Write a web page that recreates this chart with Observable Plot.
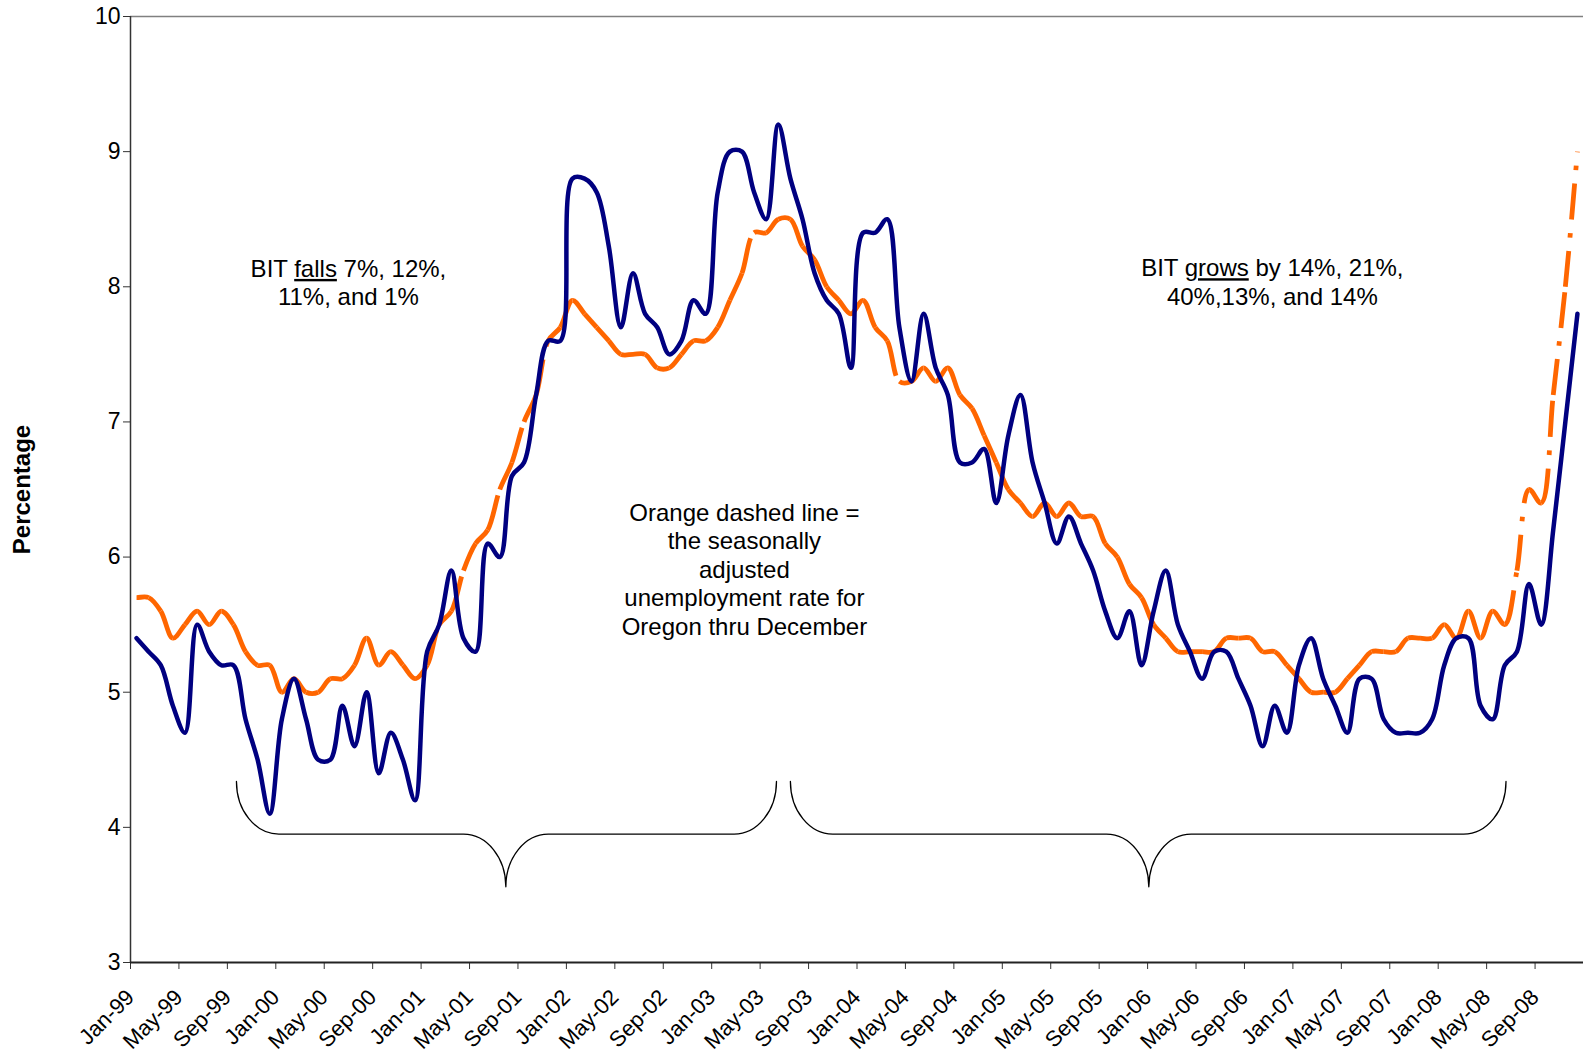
<!DOCTYPE html>
<html>
<head>
<meta charset="utf-8">
<script src="https://cdn.jsdelivr.net/npm/d3@7"></script>
<script src="https://cdn.jsdelivr.net/npm/@observablehq/plot@0.6"></script>
<style>
  html, body { margin: 0; padding: 0; background: #fff; }
  #chart svg { display: block; }
</style>
</head>
<body>
<div id="chart"></div>
<script>
// ---- Data (monthly, Jan-99 .. Dec-08) ----
const tickLabels = ["Jan-99","May-99","Sep-99","Jan-00","May-00","Sep-00","Jan-01","May-01","Sep-01",
  "Jan-02","May-02","Sep-02","Jan-03","May-03","Sep-03","Jan-04","May-04","Sep-04","Jan-05","May-05",
  "Sep-05","Jan-06","May-06","Sep-06","Jan-07","May-07","Sep-07","Jan-08","May-08","Sep-08"];

const actualRate = [
  5.4, 5.3, 5.2, 4.9, 4.7, 5.5, 5.3, 5.2, 5.2, 4.8, 4.5, 4.1,
  4.8, 5.1, 4.8, 4.5, 4.5, 4.9, 4.6, 5.0, 4.4, 4.7, 4.5, 4.2,
  5.3, 5.5, 5.9, 5.4, 5.3, 6.1, 6.0, 6.6, 6.7, 7.2, 7.6, 7.6,
  8.8, 8.8, 8.7, 8.3, 7.7, 8.1, 7.8, 7.7, 7.5, 7.6, 7.9, 7.8,
  8.7, 9.0, 9.0, 8.7, 8.5, 9.2, 8.8, 8.5, 8.1, 7.9, 7.8, 7.4,
  8.4, 8.4, 8.5, 7.7, 7.3, 7.8, 7.4, 7.2, 6.7, 6.7, 6.8, 6.4,
  6.9, 7.2, 6.7, 6.4, 6.1, 6.3, 6.1, 5.9, 5.6, 5.4, 5.6, 5.2,
  5.6, 5.9, 5.5, 5.3, 5.1, 5.3, 5.3, 5.1, 4.9, 4.6, 4.9, 4.7,
  5.2, 5.4, 5.1, 4.9, 4.7, 5.1, 5.1, 4.8, 4.7, 4.7, 4.7, 4.8,
  5.2, 5.4, 5.4, 4.9, 4.8, 5.2, 5.3, 5.8, 5.5, 6.2, 7.0, 7.8
];

const seasonallyAdjusted = [
  5.7, 5.7, 5.6, 5.4, 5.5, 5.6, 5.5, 5.6, 5.5, 5.3, 5.2, 5.2,
  5.0, 5.1, 5.0, 5.0, 5.1, 5.1, 5.2, 5.4, 5.2, 5.3, 5.2, 5.1,
  5.2, 5.5, 5.6, 5.9, 6.1, 6.2, 6.5, 6.7, 7.0, 7.2, 7.6, 7.7,
  7.9, 7.8, 7.7, 7.6, 7.5, 7.5, 7.5, 7.4, 7.4, 7.5, 7.6, 7.6,
  7.7, 7.9, 8.1, 8.4, 8.4, 8.5, 8.5, 8.3, 8.2, 8.0, 7.9, 7.8,
  7.9, 7.7, 7.6, 7.3, 7.3, 7.4, 7.3, 7.4, 7.2, 7.1, 6.9, 6.7,
  6.5, 6.4, 6.3, 6.4, 6.3, 6.4, 6.3, 6.3, 6.1, 6.0, 5.8, 5.7,
  5.5, 5.4, 5.3, 5.3, 5.3, 5.3, 5.4, 5.4, 5.4, 5.3, 5.3, 5.2,
  5.1, 5.0, 5.0, 5.0, 5.1, 5.2, 5.3, 5.3, 5.3, 5.4, 5.4, 5.4,
  5.5, 5.4, 5.6, 5.4, 5.6, 5.5, 5.9, 6.5, 6.4, 7.2, 8.0, 9.0
];

const yTicks = [3, 4, 5, 6, 7, 8, 9, 10];

// ---- Annotations ----
const notes = [
  {x: 18.0, y: 8.035, text: "BIT falls 7%, 12%,\n11%, and 1%"},
  {x: 94.3, y: 8.04, text: "BIT grows by 14%, 21%,\n40%,13%, and 14%"},
  {x: 50.7, y: 5.915, text: "Orange dashed line =\nthe seasonally\nadjusted\nunemployment rate for\nOregon thru December"}
];
const underlinedWords = ["falls", "grows"];
const braces = [
  {from: 8.75, mid: 31.0, to: 53.35},
  {from: 54.5, mid: 84.1, to: 113.6}
];
const braceShape = {top: 4.34, flat: 3.95, tip: 3.56, radius: 3.5};

// ---- Tables built from the arrays ----
const months = actualRate.map((v, i) => ({x: i + 0.5, v}));
const saPoints = seasonallyAdjusted.map((v, i) => ({x: i + 0.5, v}));
// one group per segment (prev, a, b, next) so each segment restarts its dash pattern
const saSegments = [];
for (let k = 0; k < saPoints.length - 1; k++) {
  const idx = [Math.max(k - 1, 0), k, k + 1, Math.min(k + 2, saPoints.length - 1)];
  for (const j of idx) saSegments.push({seg: k, x: saPoints[j].x, v: saPoints[j].v});
}
const braceRows = [];
braces.forEach((b, k) => {
  const r = braceShape.radius;
  [[b.from, braceShape.top], [b.from + r, braceShape.flat], [b.mid - r, braceShape.flat],
   [b.mid, braceShape.tip], [b.mid + r, braceShape.flat], [b.to - r, braceShape.flat],
   [b.to, braceShape.top]].forEach(([x, y]) => braceRows.push({brace: k, x, y}));
});

// ---- Custom curves ----
// centripetal Catmull-Rom for one segment (p1 -> p2), using p0 and p3 for the tangents
function crControls(p0, p1, p2, p3) {
  const a = 0.5, eps = 1e-6;
  const d1 = Math.max(Math.pow(Math.hypot(p1[0] - p0[0], p1[1] - p0[1]), a), eps);
  const d2 = Math.max(Math.pow(Math.hypot(p2[0] - p1[0], p2[1] - p1[1]), a), eps);
  const d3 = Math.max(Math.pow(Math.hypot(p3[0] - p2[0], p3[1] - p2[1]), a), eps);
  let c1, c2;
  if (p0[0] !== p1[0] || p0[1] !== p1[1]) {
    const A = 2 * d1 * d1 + 3 * d1 * d2 + d2 * d2, n = 3 * d1 * (d1 + d2);
    c1 = [(p1[0] * A - p0[0] * d2 * d2 + p2[0] * d1 * d1) / n, (p1[1] * A - p0[1] * d2 * d2 + p2[1] * d1 * d1) / n];
  } else {
    c1 = [p1[0] + (p2[0] - p1[0]) / 3, p1[1] + (p2[1] - p1[1]) / 3];
  }
  if (p3[0] !== p2[0] || p3[1] !== p2[1]) {
    const B = 2 * d3 * d3 + 3 * d3 * d2 + d2 * d2, m = 3 * d3 * (d3 + d2);
    c2 = [(p2[0] * B + p1[0] * d3 * d3 - p3[0] * d2 * d2) / m, (p2[1] * B + p1[1] * d3 * d3 - p3[1] * d2 * d2) / m];
  } else {
    c2 = [p2[0] - (p2[0] - p1[0]) / 3, p2[1] - (p2[1] - p1[1]) / 3];
  }
  return [c1, c2];
}
function segmentCurve(context) {
  let pts;
  return {
    areaStart() {}, areaEnd() {},
    lineStart() { pts = []; },
    point(x, y) { pts.push([+x, +y]); },
    lineEnd() {
      if (pts.length < 4) return;
      const [p0, p1, p2, p3] = pts;
      const [c1, c2] = crControls(p0, p1, p2, p3);
      context.moveTo(p1[0], p1[1]);
      context.bezierCurveTo(c1[0], c1[1], c2[0], c2[1], p2[0], p2[1]);
    }
  };
}
function braceCurve(context) {
  let pts;
  const k = 0.5523;
  return {
    areaStart() {}, areaEnd() {},
    lineStart() { pts = []; },
    point(x, y) { pts.push([+x, +y]); },
    lineEnd() {
      if (pts.length < 7) return;
      const [a, b, c, d, e, f, g] = pts;
      context.moveTo(a[0], a[1]);
      context.bezierCurveTo(a[0], a[1] + k * (b[1] - a[1]), b[0] - k * (b[0] - a[0]), b[1], b[0], b[1]);
      context.lineTo(c[0], c[1]);
      context.bezierCurveTo(c[0] + k * (d[0] - c[0]), c[1], d[0], d[1] - k * (d[1] - c[1]), d[0], d[1]);
      context.bezierCurveTo(d[0], d[1] + k * (e[1] - d[1]), e[0] - k * (e[0] - d[0]), e[1], e[0], e[1]);
      context.lineTo(f[0], f[1]);
      context.bezierCurveTo(f[0] + k * (g[0] - f[0]), f[1], g[0], g[1] - k * (g[1] - f[1]), g[0], g[1]);
    }
  };
}

const font = "'Liberation Sans', Arial, Helvetica, sans-serif";

const chart = Plot.plot({
  width: 1583,
  height: 1058,
  marginLeft: 130,
  marginRight: 0,
  marginTop: 16,
  marginBottom: 96,
  style: {fontFamily: font, fontSize: "22px", color: "#000", background: "#fff", overflow: "visible"},
  x: {domain: [0, 120]},
  y: {domain: [3, 10]},
  marks: [
    Plot.ruleY([10], {stroke: "#808080", strokeWidth: 1.5}),
    Plot.axisY(yTicks, {tickSize: 7, tickPadding: 3, label: null, stroke: "#333", fontSize: 23,
      tickFormat: d => String(d)}),
    Plot.axisX(tickLabels.map((_, i) => i * 4), {
      tickFormat: d => tickLabels[d / 4], fontSize: 22,
      tickRotate: -45, tickSize: 7, tickPadding: 24, label: null, stroke: "#333"
    }),
    Plot.ruleX([0], {stroke: "#333", strokeWidth: 1.5}),
    Plot.ruleY([3], {stroke: "#222", strokeWidth: 2}),
    Plot.text(["Percentage"], {frameAnchor: "left", dx: -108, rotate: -90, textAnchor: "middle",
      fontWeight: "bold", fontSize: 24}),
    Plot.line(braceRows, {x: "x", y: "y", z: "brace", curve: braceCurve, stroke: "#000", strokeWidth: 1.3}),
    Plot.text(notes, {x: "x", y: "y", text: "text", fontSize: 24, lineHeight: 1.19, textAnchor: "middle",
      lineAnchor: "middle", fill: "#000"}),
    Plot.line(saSegments, {x: "x", y: "v", z: "seg", curve: segmentCurve, stroke: "#FF6600",
      strokeWidth: 4.8, strokeDasharray: "36,13.5,4.5,13.5", strokeLinecap: "butt"}),
    Plot.line(months, {x: "x", y: "v", curve: "catmull-rom", stroke: "#000080", strokeWidth: 4.5,
      strokeLinejoin: "round", strokeLinecap: "round"})
  ]
});

// underline the key words of the annotations
for (const el of Array.from(chart.querySelectorAll("text, tspan"))) {
  if (el.children.length) continue;
  const s = el.textContent;
  const w = underlinedWords.find(w => s.includes(w));
  if (!w) continue;
  const i = s.indexOf(w);
  el.textContent = "";
  el.append(document.createTextNode(s.slice(0, i)));
  const u = document.createElementNS("http://www.w3.org/2000/svg", "tspan");
  u.style.textDecoration = "underline";
  u.textContent = w;
  el.append(u);
  el.append(document.createTextNode(s.slice(i + w.length)));
}

document.getElementById("chart").append(chart);
</script>
</body>
</html>
